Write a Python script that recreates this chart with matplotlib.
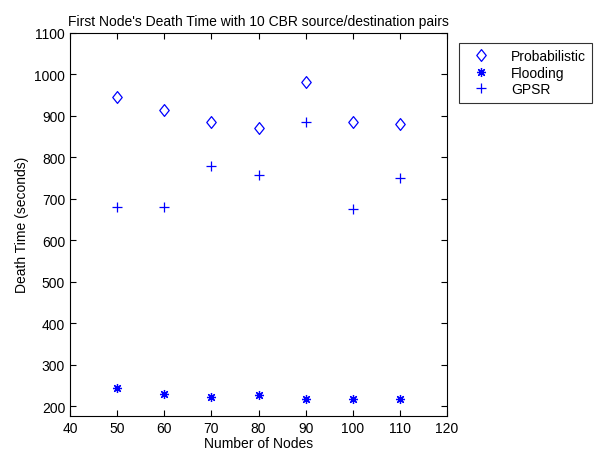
import matplotlib.pyplot as plt
from matplotlib.path import Path
import numpy as np

plt.rcParams['font.family'] = ['Liberation Sans', 'DejaVu Sans']

nodes = [50, 60, 70, 80, 90, 100, 110]
probabilistic = [946, 913, 886, 870, 981, 886, 880]
flooding = [245, 229, 221, 226, 218, 218, 218]
gpsr = [680, 680, 778, 757, 884, 675, 749]

# matlab style diamond (a bit taller than wide)
diamond = Path([(0, 1), (0.8, 0), (0, -1), (-0.8, 0), (0, 1)],
               [Path.MOVETO, Path.LINETO, Path.LINETO, Path.LINETO, Path.CLOSEPOLY])

fig = plt.figure(figsize=(6.05, 4.52), dpi=100)
ax = fig.add_axes([0.1157, 0.078, 0.6233, 0.847])

blue = (0, 0, 1)
ax.plot(nodes, probabilistic, linestyle='none', marker=diamond, markersize=8.5,
        markerfacecolor='none', markeredgecolor=blue, markeredgewidth=0.9,
        label='Probabilistic')
ax.plot(nodes, flooding, linestyle='none', marker=(8, 2, 0), markersize=6.5,
        color=blue, markeredgewidth=0.9, label='Flooding')
ax.plot(nodes, gpsr, linestyle='none', marker='+', markersize=7.5,
        color=blue, markeredgewidth=0.9, label='GPSR')

ax.set_xlim(40, 120)
ax.set_ylim(177, 1100)
ax.set_xticks(np.arange(40, 121, 10))
ax.set_yticks(np.arange(200, 1101, 100))
ax.tick_params(direction='in', top=True, right=True, labelsize=10, length=4)
for s in ax.spines.values():
    s.set_linewidth(0.8)

ax.set_xlabel('Number of Nodes', fontsize=10, labelpad=1)
ax.set_ylabel('Death Time (seconds)', fontsize=10)
ax.set_title("First Node's Death Time with 10 CBR source/destination pairs", fontsize=10)

leg = ax.legend(loc='upper left', bbox_to_anchor=(1.013, 0.993), fontsize=10,
                frameon=True, fancybox=False, edgecolor='black', borderpad=0.45,
                handlelength=2.3, handletextpad=1.0, labelspacing=0.2)
leg.get_frame().set_linewidth(0.8)

fig.savefig('out.png', dpi=100)
